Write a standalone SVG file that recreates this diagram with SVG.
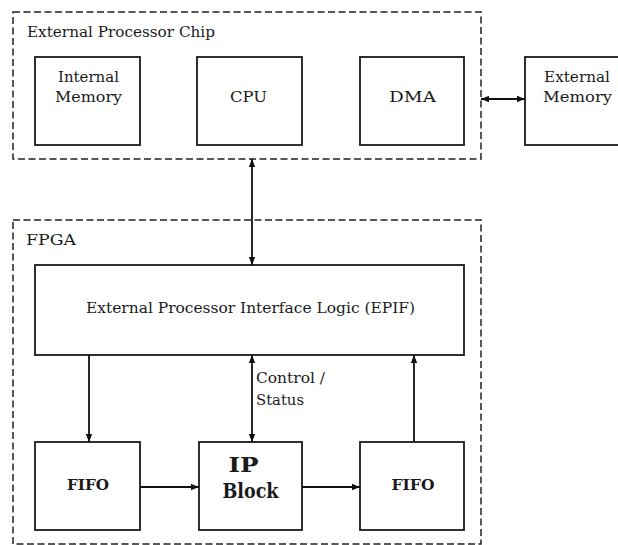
<svg xmlns="http://www.w3.org/2000/svg" width="618" height="545" viewBox="0 0 618 545">
<style>
.dash{fill:none;stroke:#222;stroke-width:1.5;stroke-dasharray:7,3.5}
.box{fill:#fff;stroke:#1a1a1a;stroke-width:1.8}
.t{font-family:"DejaVu Serif","Liberation Serif","Times New Roman",serif;fill:#1a1a1a;font-size:15px}
.c{text-anchor:middle}
.b{font-weight:bold}
.ln{stroke:#111;stroke-width:1.8;fill:none}
</style>
<defs>
<marker id="ah2" viewBox="0 0 10 10" refX="10" refY="5" markerWidth="8" markerHeight="8" orient="auto-start-reverse" markerUnits="userSpaceOnUse">
<path d="M0,1 L10,5 L0,9 Z" fill="#111"/>
</marker>
</defs>
<g id="chip">
<rect class="dash" x="13" y="12" width="468" height="147"/>
<text class="t" x="27" y="37" textLength="188" lengthAdjust="spacingAndGlyphs">External Processor Chip</text>
</g>
<g id="fpga">
<rect class="dash" x="13" y="220" width="468" height="324"/>
<text class="t" x="26" y="245" textLength="50" lengthAdjust="spacingAndGlyphs">FPGA</text>
</g>
<g id="internal-memory">
<rect class="box" x="35" y="57" width="105" height="88"/>
<text class="t c" x="88.5" y="82" textLength="61" lengthAdjust="spacingAndGlyphs">Internal</text>
<text class="t c" x="88.5" y="102" textLength="67" lengthAdjust="spacingAndGlyphs">Memory</text>
</g>
<g id="cpu">
<rect class="box" x="197" y="57" width="105" height="88"/>
<text class="t c" x="248.5" y="102" textLength="37" lengthAdjust="spacingAndGlyphs">CPU</text>
</g>
<g id="dma">
<rect class="box" x="360" y="57" width="104" height="88"/>
<text class="t c" x="412.5" y="102" textLength="47" lengthAdjust="spacingAndGlyphs">DMA</text>
</g>
<g id="external-memory">
<rect class="box" x="525" y="57" width="105" height="88"/>
<text class="t c" x="577" y="82" textLength="66" lengthAdjust="spacingAndGlyphs">External</text>
<text class="t c" x="577.5" y="102" textLength="69" lengthAdjust="spacingAndGlyphs">Memory</text>
</g>
<g id="epif">
<rect class="box" x="35" y="265" width="429" height="90"/>
<text class="t c" x="250.5" y="313" textLength="329" lengthAdjust="spacingAndGlyphs">External Processor Interface Logic (EPIF)</text>
</g>
<g id="fifo-in">
<rect class="box" x="35" y="442" width="105" height="88"/>
<text class="t c b" x="88" y="490" textLength="42" lengthAdjust="spacingAndGlyphs">FIFO</text>
</g>
<g id="ip-block">
<rect class="box" x="199" y="442" width="103" height="88"/>
<text class="t c b" x="243.5" y="472" style="font-size:20px" textLength="30" lengthAdjust="spacingAndGlyphs">IP</text>
<text class="t c b" x="250.5" y="498" style="font-size:20px" textLength="56" lengthAdjust="spacingAndGlyphs">Block</text>
</g>
<g id="fifo-out">
<rect class="box" x="360" y="442" width="104" height="88"/>
<text class="t c b" x="413" y="490" textLength="43" lengthAdjust="spacingAndGlyphs">FIFO</text>
</g>
<g id="connectors">
<line class="ln" x1="481" y1="99" x2="525" y2="99" marker-start="url(#ah2)" marker-end="url(#ah2)"/>
<line class="ln" x1="252" y1="159" x2="252" y2="265" marker-start="url(#ah2)" marker-end="url(#ah2)"/>
<line class="ln" x1="89" y1="355" x2="89" y2="442" marker-end="url(#ah2)"/>
<line class="ln" x1="252" y1="355" x2="252" y2="442" marker-start="url(#ah2)" marker-end="url(#ah2)"/>
<line class="ln" x1="414" y1="442" x2="414" y2="355" marker-end="url(#ah2)"/>
<line class="ln" x1="140" y1="487" x2="199" y2="487" marker-end="url(#ah2)"/>
<line class="ln" x1="302" y1="487" x2="360" y2="487" marker-end="url(#ah2)"/>
<text class="t" x="256" y="383" textLength="69" lengthAdjust="spacingAndGlyphs">Control /</text>
<text class="t" x="256" y="405" textLength="48" lengthAdjust="spacingAndGlyphs">Status</text>
</g>
</svg>
